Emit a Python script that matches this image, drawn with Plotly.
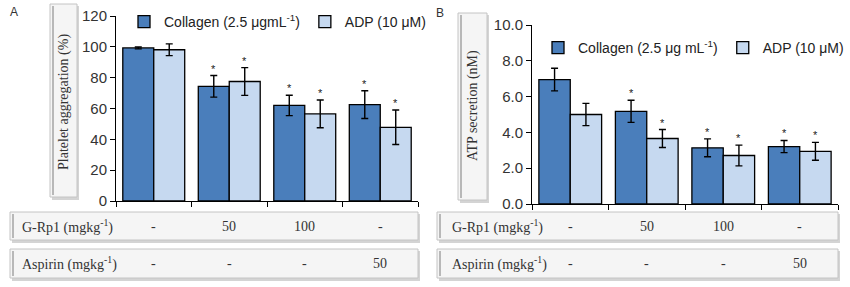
import plotly.graph_objects as go

W, H = 850, 287

# ---------------- data ----------------
groups = ["Control", "G-Rp1 50", "G-Rp1 100", "Aspirin 50"]
series_names_a = ["Collagen (2.5 μgmL<sup>-1</sup>)", "ADP (10 μM)"]
series_names_b = ["Collagen (2.5 μg mL<sup>-1</sup>)", "ADP (10 μM)"]

agg_collagen = [99.3, 74.4, 62.0, 62.5]
agg_collagen_err = [0.6, 7.0, 6.6, 9.0]
agg_adp = [98.1, 77.5, 56.5, 47.8]
agg_adp_err = [3.8, 9.0, 9.0, 11.2]
agg_collagen_sig = [False, True, True, True]
agg_adp_sig = [False, True, True, True]

atp_collagen = [6.95, 5.18, 3.14, 3.21]
atp_collagen_err = [0.63, 0.62, 0.50, 0.34]
atp_adp = [5.0, 3.66, 2.71, 2.94]
atp_adp_err = [0.62, 0.50, 0.58, 0.50]
atp_collagen_sig = [False, True, True, True]
atp_adp_sig = [False, True, True, True]

grp1_dose = ["-", "50", "100", "-"]
aspirin_dose = ["-", "-", "-", "50"]
row_labels = ["G-Rp1 (mgkg<sup>-1</sup>)", "Aspirin (mgkg<sup>-1</sup>)"]

DARK = "#4a7ebb"
LIGHT = "#c6d9f0"


def px(x):
    return x / W


def py(y):
    return 1 - y / H


fig = go.Figure()

err_style = dict(type="data", color="black", thickness=1.4, width=3.5, visible=True)


def add_panel(xa, ya, legend, names, c_vals, c_err, a_vals, a_err):
    fig.add_trace(go.Bar(
        x=groups, y=c_vals, name=names[0], xaxis=xa, yaxis=ya, legend=legend,
        marker=dict(color=DARK, line=dict(color="black", width=1.3)),
        error_y=dict(array=c_err, **err_style)))
    fig.add_trace(go.Bar(
        x=groups, y=a_vals, name=names[1], xaxis=xa, yaxis=ya, legend=legend,
        marker=dict(color=LIGHT, line=dict(color="black", width=1.3)),
        error_y=dict(array=a_err, **err_style)))


add_panel("x", "y", "legend", series_names_a, agg_collagen, agg_collagen_err, agg_adp, agg_adp_err)
add_panel("x2", "y2", "legend2", series_names_b, atp_collagen, atp_collagen_err, atp_adp, atp_adp_err)

annotations = []
shapes = []


def add_stars(xref, yref, vals, errs, sig, offset):
    for g, v, e, s in zip(groups, vals, errs, sig):
        if s:
            annotations.append(dict(
                x=g, y=v + e, xref=xref, yref=yref, text="*", showarrow=False,
                xshift=offset, xanchor="center", yanchor="bottom", yshift=-1,
                font=dict(family="Arial", size=11, color="#222")))


add_stars("x", "y", agg_collagen, agg_collagen_err, agg_collagen_sig, -15.5)
add_stars("x", "y", agg_adp, agg_adp_err, agg_adp_sig, 15.5)
add_stars("x2", "y2", atp_collagen, atp_collagen_err, atp_collagen_sig, -15.5)
add_stars("x2", "y2", atp_adp, atp_adp_err, atp_adp_sig, 15.5)


def box(x0, y0, x1, y1):
    # shadow
    shapes.append(dict(type="rect", xref="paper", yref="paper",
                       x0=px(x0 + 2), x1=px(x1 + 2), y0=py(y1 + 3), y1=py(y0 + 2),
                       fillcolor="#d4d4d4", line=dict(width=0), layer="below"))
    shapes.append(dict(type="rect", xref="paper", yref="paper",
                       x0=px(x0), x1=px(x1), y0=py(y1), y1=py(y0),
                       fillcolor="#f5f5f5", line=dict(color="#c4c4c4", width=1), layer="below"))
    shapes.append(dict(type="line", xref="paper", yref="paper",
                       x0=px(x0 + 3), x1=px(x0 + 3), y0=py(y1 - 2), y1=py(y0 + 2),
                       line=dict(color="#b8b8b8", width=2), layer="below"))


def label(x, y, text, size=14, family="Liberation Serif", xanchor="center", angle=0):
    annotations.append(dict(x=px(x), y=py(y), xref="paper", yref="paper", text=text,
                            textangle=angle, showarrow=False,
                            xanchor=xanchor, yanchor="middle",
                            font=dict(family=family, size=size, color="#333")))


# y-axis title boxes
box(50, 4, 77, 197)
box(458, 13, 487, 200)
label(64, 102, "Platelet aggregation (%)", angle=-90)
label(473, 106, "ATP secretion (nM)", angle=-90)

# panel letters
label(8, 12, "A", size=12, family="Arial", xanchor="left")
label(434, 13, "B", size=12, family="Arial", xanchor="left")

# table rows
rows_y = [(212, 240), (249, 278)]
for (xl, xr, xref, lx) in [(10, 418, "x", 20), (437, 838, "x2", 450)]:
    for (y0, y1), rl, doses in zip(rows_y, row_labels, [grp1_dose, aspirin_dose]):
        box(xl, y0, xr, y1)
        ym = (y0 + y1) / 2
        label(lx, ym, rl, xanchor="left")
        for g, d in zip(groups, doses):
            annotations.append(dict(x=g, y=py(ym), xref=xref, yref="paper", text=d,
                                    showarrow=False, xanchor="center", yanchor="middle",
                                    font=dict(family="Liberation Serif", size=14, color="#333")))

axis_common = dict(showline=True, linecolor="black", linewidth=1, ticks="outside",
                   ticklen=5, tickcolor="black", showgrid=False, zeroline=False,
                   tickfont=dict(family="Arial", size=15, color="#333"))

xaxis_common = dict(type="category", tickson="boundaries", showticklabels=False,
                    showline=True, linecolor="black", linewidth=1, ticks="outside",
                    ticklen=5, tickcolor="black", showgrid=False)

fig.update_layout(
    width=W, height=H,
    margin=dict(l=0, r=0, t=0, b=0, autoexpand=False),
    paper_bgcolor="white", plot_bgcolor="white",
    barmode="group", bargap=0.18, bargroupgap=0,
    showlegend=True,
    xaxis=dict(domain=[px(116), px(418)], anchor="y", **xaxis_common),
    yaxis=dict(domain=[py(201), py(16)], anchor="x", range=[0, 120], dtick=20,
               **axis_common),
    xaxis2=dict(domain=[px(532), px(838)], anchor="y2", **xaxis_common),
    yaxis2=dict(domain=[py(204), py(25)], anchor="x2", range=[0, 10], dtick=2,
                tickformat=".1f", **axis_common),
    legend=dict(orientation="h", x=px(124), y=py(22), xanchor="left", yanchor="middle",
                bgcolor="rgba(0,0,0,0)", itemwidth=30, tracegroupgap=0,
                font=dict(family="Arial", size=14, color="#222")),
    legend2=dict(orientation="h", x=px(538), y=py(48), xanchor="left", yanchor="middle",
                 bgcolor="rgba(0,0,0,0)", itemwidth=30, tracegroupgap=0,
                 font=dict(family="Arial", size=14, color="#222")),
    annotations=annotations,
    shapes=shapes,
)

fig.write_html("out.html", config={"displayModeBar": False},
               post_script="document.body.style.margin='0';")
